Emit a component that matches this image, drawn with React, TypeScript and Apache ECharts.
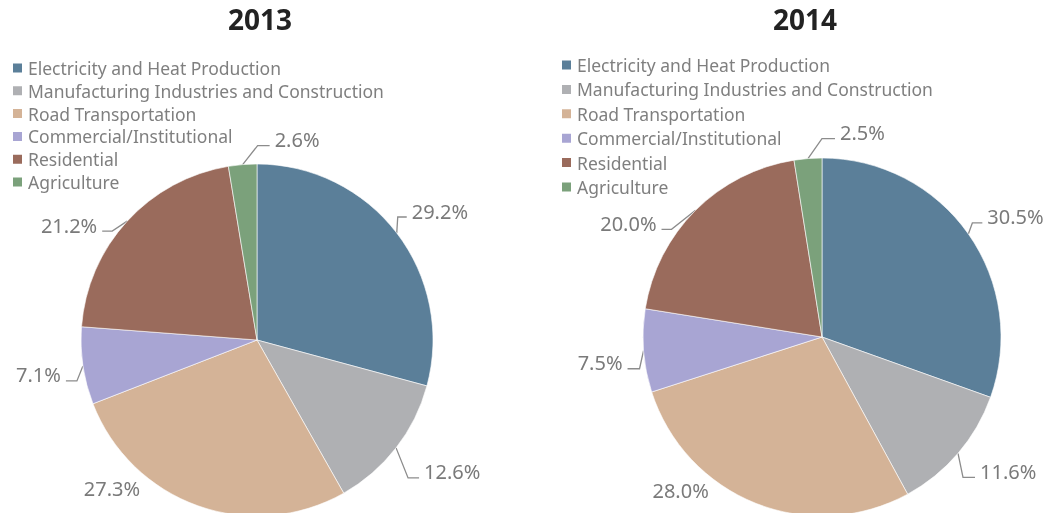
import React, { useEffect, useRef } from "react";
import * as echarts from "echarts";

const categories = [
  "Electricity and Heat Production",
  "Manufacturing Industries and Construction",
  "Road Transportation",
  "Commercial/Institutional",
  "Residential",
  "Agriculture",
];
const colors = ["#5B7F99", "#AFB0B3", "#D4B397", "#A8A5D3", "#9A6B5C", "#7BA17B"];
const values2013 = [29.2, 12.6, 27.3, 7.1, 21.2, 2.6];
const values2014 = [30.5, 11.6, 28.0, 7.5, 20.0, 2.5];
const years = ["2013", "2014"];

// Leader-line offsets relative to each slice's outer mid-angle point:
// [elbowDx, elbowDy, endDx, endDy] or null for a label with no line ([dx, dy] in labelShift)
const leader2013: (number[] | null)[] = [
  [1, -16, 10, -16],
  [12, 30, 23, 30],
  null,
  [-6, 15, -17, 15],
  [-15, 10, -25, 10],
  [15, -19, 27, -19],
];
const leader2014: (number[] | null)[] = [
  [4, -11, 14, -11],
  [5, 24, 17, 24],
  null,
  [-4, 18, -16, 18],
  [-24, 19, -34, 19],
  [14, -20, 27, -20],
];
const labelShift2013 = [-86, -17];
const labelShift2014 = [-75, -13];

const FONT = "'Noto Sans', sans-serif";

function edgePoint(vals: number[], i: number, cx: number, cy: number, r: number) {
  const total = vals.reduce((a, b) => a + b, 0);
  let cum = 0;
  for (let k = 0; k < i; k++) cum += vals[k];
  const ang = ((cum + vals[i] / 2) / total) * Math.PI * 2;
  return [cx + r * Math.sin(ang), cy - r * Math.cos(ang)];
}

export default function App() {
  const ref = useRef<HTMLDivElement>(null);
  useEffect(() => {
    if (!ref.current) return;
    const chart = echarts.init(ref.current, null, { renderer: "svg" });
    const mkData = (vals: number[]) =>
      categories.map((name, i) => ({
        name,
        value: vals[i],
        itemStyle: { color: colors[i] },
      }));
    const mkSeries = (
      vals: number[],
      cx: number,
      cy: number,
      r: number,
      leaders: (number[] | null)[],
      shift: number[]
    ) => ({
      type: "pie",
      center: [cx, cy],
      radius: r,
      startAngle: 90,
      clockwise: true,
      avoidLabelOverlap: false,
      data: mkData(vals),
      itemStyle: { borderColor: "#fff", borderWidth: 0.6 },
      label: {
        show: true,
        position: "outside",
        formatter: (p: any) => p.value.toFixed(1) + "%",
        color: "#7A7A7A",
        fontSize: 20,
        fontFamily: FONT,
        overflow: "none",
      },
      labelLine: { show: true, length: 12, length2: 14, smooth: false, lineStyle: { color: "#8C8C8C", width: 1.3 } },
      labelLayout: (p: any) => {
        const i = p.dataIndex;
        const [x0, y0] = edgePoint(vals, i, cx, cy, r);
        const o = leaders[i];
        if (!o) {
          return {
            x: x0 + shift[0],
            y: y0 + shift[1],
            align: "center",
            verticalAlign: "middle",
            labelLinePoints: [[x0, y0], [x0, y0], [x0, y0]],
          };
        }
        const right = o[2] > 0;
        const ex = x0 + o[2];
        const ey = y0 + o[3];
        return {
          x: ex + (right ? 5 : -5),
          y: ey - 6,
          align: right ? "left" : "right",
          verticalAlign: "middle",
          labelLinePoints: [[x0, y0], [x0 + o[0], y0 + o[1]], [ex, ey]],
        };
      },
      emphasis: { disabled: true },
    });
    const mkLegend = (left: number, top: number, gap: number) => ({
      orient: "vertical",
      left,
      top,
      padding: 0,
      itemWidth: 11,
      itemHeight: 11,
      itemGap: gap,
      icon: "rect",
      data: categories,
      textStyle: { color: "#7F7F7F", fontSize: 17.5, fontFamily: FONT, lineHeight: 20 },
      selectedMode: false,
    });
    const titleStyle = { fontSize: 28, fontWeight: "bold", color: "#222", fontFamily: FONT };
    chart.setOption({
      animation: false,
      title: [
        { text: years[0], left: 260, top: 5, padding: 0, textAlign: "center", textStyle: titleStyle },
        { text: years[1], left: 805, top: 5, padding: 0, textAlign: "center", textStyle: titleStyle },
      ],
      legend: [mkLegend(11, 58, 2.8), mkLegend(560, 55, 4.4)],
      series: [
        mkSeries(values2013, 257, 340, 176, leader2013, labelShift2013),
        mkSeries(values2014, 822, 337, 179, leader2014, labelShift2014),
      ],
    });
    return () => chart.dispose();
  }, []);
  return <div ref={ref} style={{ position: "fixed", left: 0, top: 0, width: 1054, height: 513 }} />;
}
